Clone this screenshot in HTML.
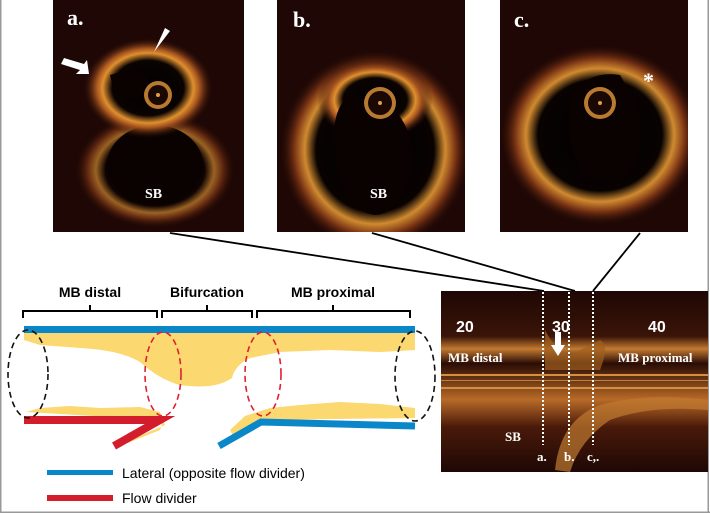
<!DOCTYPE html>
<html><head><meta charset="utf-8"><style>
html,body{margin:0;padding:0;background:#fff;}
svg{display:block}
text{font-family:"Liberation Sans",sans-serif}
.s{font-family:"Liberation Serif",serif;font-weight:bold;fill:#fff}
</style></head><body>
<svg width="710" height="514" viewBox="0 0 710 514" xmlns="http://www.w3.org/2000/svg">
<defs>
<radialGradient id="ring" cx="50%" cy="50%" r="50%">
<stop offset="0" stop-color="#000"/>
<stop offset="0.55" stop-color="#0a0302"/>
<stop offset="0.7" stop-color="#e0902e"/>
<stop offset="0.8" stop-color="#a0501e"/>
<stop offset="1" stop-color="#2a0c05" stop-opacity="0"/>
</radialGradient>
<radialGradient id="ringS" cx="50%" cy="50%" r="50%">
<stop offset="0" stop-color="#000"/>
<stop offset="0.62" stop-color="#080201"/>
<stop offset="0.74" stop-color="#d08a30"/>
<stop offset="0.85" stop-color="#7a3414"/>
<stop offset="1" stop-color="#2a0c05" stop-opacity="0"/>
</radialGradient>
<linearGradient id="lg" x1="0" y1="0" x2="0" y2="1">
<stop offset="0" stop-color="#1e0804"/>
<stop offset="0.25" stop-color="#3a1408"/>
<stop offset="0.32" stop-color="#c27a30"/>
<stop offset="0.4" stop-color="#2a0c05"/>
<stop offset="0.6" stop-color="#b86a28"/>
<stop offset="0.75" stop-color="#4a1a0a"/>
<stop offset="1" stop-color="#1e0804"/>
</linearGradient>
<clipPath id="ca"><rect x="53" y="0" width="191" height="232"/></clipPath>
<clipPath id="cb"><rect x="277" y="0" width="188" height="232"/></clipPath>
<clipPath id="cc"><rect x="500" y="0" width="188" height="232"/></clipPath>
<clipPath id="cl"><rect x="441" y="291" width="267" height="181"/></clipPath>
</defs>
<rect x="0" y="0" width="710" height="514" fill="#fff"/>
<rect x="0" y="0" width="1.5" height="513" fill="#999"/>
<rect x="0" y="511.5" width="710" height="1.5" fill="#999"/>
<rect x="707.5" y="0" width="1.5" height="513" fill="#999"/>

<!-- panel a -->
<g clip-path="url(#ca)">
<rect x="53" y="0" width="191" height="232" fill="#1e0705"/>
<ellipse cx="155" cy="170" rx="80" ry="58" fill="url(#ringS)" opacity="0.7"/>
<ellipse cx="155" cy="165" rx="48" ry="40" fill="#0a0201"/>
<ellipse cx="148" cy="88" rx="65" ry="50" fill="url(#ring)"/>
<path d="M110 75 L135 68 L150 75 L140 100 L115 95 Z" fill="#0a0201"/>
<circle cx="158" cy="95" r="14" fill="#b87a30"/><circle cx="158" cy="95" r="10" fill="#1a0805"/><circle cx="158" cy="95" r="2" fill="#e0a040"/>
</g>
<text x="67" y="25" class="s" font-size="22">a.</text>
<text x="145" y="198" class="s" font-size="14">SB</text>
<polygon points="64,58 84,64 87,60 89,74 76,74 80,70 61,64" fill="#fff"/>
<polygon points="165,28 170,31 154,52" fill="#fff"/>

<!-- panel b -->
<g clip-path="url(#cb)">
<rect x="277" y="0" width="188" height="232" fill="#1e0705"/>
<ellipse cx="375" cy="150" rx="95" ry="100" fill="url(#ringS)"/>
<ellipse cx="375" cy="100" rx="58" ry="40" fill="url(#ring)"/>
<path d="M335 150 Q330 110 350 95 L395 110 Q420 140 410 180 Q395 215 375 215 Q340 210 335 150Z" fill="#0a0201"/>
<circle cx="380" cy="103" r="16" fill="#b87a30"/><circle cx="380" cy="103" r="12" fill="#1a0805"/><circle cx="380" cy="103" r="2" fill="#e0a040"/>
</g>
<text x="293" y="27" class="s" font-size="22">b.</text>
<text x="370" y="198" class="s" font-size="14">SB</text>

<!-- panel c -->
<g clip-path="url(#cc)">
<rect x="500" y="0" width="188" height="232" fill="#1e0705"/>
<ellipse cx="600" cy="135" rx="100" ry="90" fill="url(#ringS)"/>
<path d="M570 95 Q590 70 620 75 L640 110 Q645 170 620 180 L585 178 Q565 150 570 95Z" fill="#0a0201"/>
<circle cx="600" cy="103" r="16" fill="#b87a30"/><circle cx="600" cy="103" r="12" fill="#1a0805"/><circle cx="600" cy="103" r="2" fill="#e0a040"/>
</g>
<text x="514" y="27" class="s" font-size="22">c.</text>
<text x="643" y="88" class="s" font-size="22">*</text>

<!-- connector lines -->
<line x1="170" y1="233" x2="544" y2="291" stroke="#000" stroke-width="1.8"/>
<line x1="372" y1="233" x2="575" y2="291" stroke="#000" stroke-width="1.8"/>
<line x1="640" y1="233" x2="593" y2="291" stroke="#000" stroke-width="1.8"/>

<!-- longitudinal -->
<g clip-path="url(#cl)">
<rect x="441" y="291" width="267" height="181" fill="url(#lg)"/>
<rect x="441" y="374" width="267" height="2" fill="#d49040"/>
<rect x="441" y="380" width="267" height="1" fill="#c08038"/>
<rect x="441" y="387" width="267" height="2" fill="#d49040"/>
<path d="M545 330 Q555 350 570 355 L600 340 Q610 345 600 370 L545 370Z" fill="#a0601e" opacity="0.7"/>
<path d="M555 470 Q560 420 600 405 Q650 392 708 400 L708 410 Q650 405 610 420 Q580 440 570 472Z" fill="#c07a30" opacity="0.7"/>
</g>
<text x="456" y="332" fill="#fff" font-size="16" font-weight="bold">20</text>
<text x="552" y="332" fill="#fff" font-size="16" font-weight="bold">30</text>
<text x="648" y="332" fill="#fff" font-size="16" font-weight="bold">40</text>
<polygon points="555,332 561,332 561,345 565,345 558,356 551,345 555,345" fill="#fff"/>
<text x="448" y="362" class="s" font-size="13">MB distal</text>
<text x="618" y="362" class="s" font-size="13">MB proximal</text>
<text x="505" y="441" class="s" font-size="13">SB</text>
<text x="537" y="461" class="s" font-size="13">a.</text>
<text x="564" y="461" class="s" font-size="13">b.</text>
<text x="587" y="461" class="s" font-size="13">c,.</text>
<g stroke="#fff" stroke-width="2" stroke-dasharray="2,2">
<line x1="543" y1="292" x2="543" y2="445"/>
<line x1="569" y1="292" x2="569" y2="445"/>
<line x1="593" y1="292" x2="593" y2="445"/>
</g>

<!-- schematic yellow -->
<path d="M24 333 L415 333 L415 350 L380 352 L330 350 L280 352 L250 358 Q235 365 232 378 Q215 390 180 385 Q160 380 140 362 Q120 350 80 348 L40 345 L24 340Z" fill="#fcd870"/>
<path d="M26 412 L40 408 L70 406 L100 408 L140 407 L160 412 L165 425 L130 440 L115 448 L160 430 L163 420 Z" fill="#fcd870"/>
<path d="M230 430 L245 416 L270 408 L300 405 L340 402 L380 404 L415 408 L415 418 L260 420 L235 440Z" fill="#fcd870"/>

<rect x="24" y="326" width="391" height="7" fill="#0a87c9"/>
<polyline points="24,420 160,420 114,446" fill="none" stroke="#d41d2c" stroke-width="8" stroke-linejoin="miter"/>
<polyline points="219,446 261,422 415,426" fill="none" stroke="#0a87c9" stroke-width="7"/>

<g fill="none" stroke-width="1.6" stroke-dasharray="6,4">
<ellipse cx="28" cy="374" rx="20" ry="44" stroke="#111"/>
<ellipse cx="163" cy="374" rx="18" ry="42" stroke="#e02030"/>
<ellipse cx="263" cy="374" rx="18" ry="42" stroke="#e02030"/>
<ellipse cx="415" cy="376" rx="20" ry="45" stroke="#111"/>
</g>

<!-- braces -->
<g fill="none" stroke="#000" stroke-width="2">
<path d="M23 318 L23 311 L157 311 L157 318 M90 311 L90 305"/>
<path d="M162 318 L162 311 L252 311 L252 318 M207 311 L207 305"/>
<path d="M257 318 L257 311 L410 311 L410 318 M333 311 L333 305"/>
</g>
<text x="90" y="297" text-anchor="middle" font-size="14" font-weight="bold">MB distal</text>
<text x="207" y="297" text-anchor="middle" font-size="14" font-weight="bold">Bifurcation</text>
<text x="333" y="297" text-anchor="middle" font-size="14" font-weight="bold">MB proximal</text>

<!-- legend -->
<rect x="47" y="470" width="66" height="5" fill="#0a87c9"/>
<rect x="47" y="495" width="66" height="6" fill="#d41d2c"/>
<text x="122" y="478" font-size="14">Lateral (opposite flow divider)</text>
<text x="122" y="503" font-size="14">Flow divider</text>
</svg>
</body></html>
